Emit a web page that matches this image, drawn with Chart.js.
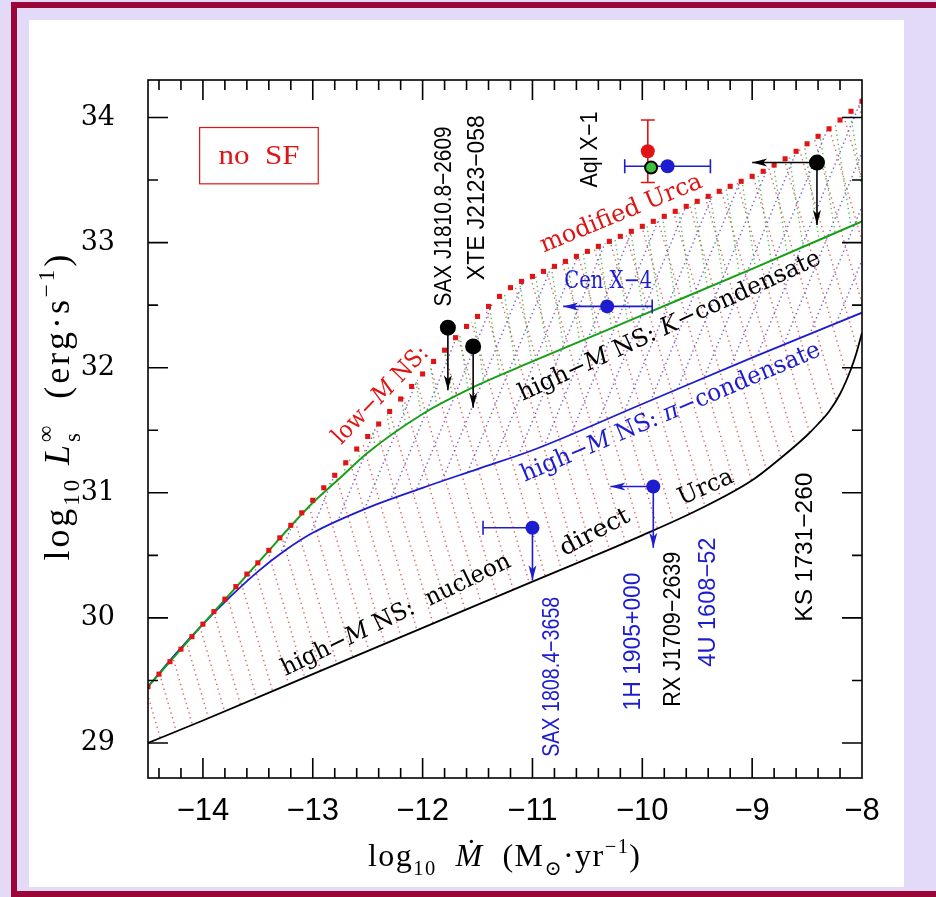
<!DOCTYPE html>
<html>
<head>
<meta charset="utf-8">
<title>Quiescent luminosity vs. accretion rate</title>
<script src="https://cdn.jsdelivr.net/npm/chart.js@4/dist/chart.umd.min.js"></script>
<style>
  html, body { margin: 0; padding: 0; }
  body { width: 936px; height: 897px; background: #e2daf6; position: relative; overflow: hidden; }
  #frame { position: absolute; left: 11px; top: 2px; width: 1000px; height: 895px; box-sizing: border-box; border: 6px solid #9c0538; }
  #panel { position: absolute; left: 29px; top: 20px; width: 875px; height: 867px; background: #fff; }
  #chart { position: absolute; left: 0; top: 0; }
</style>
</head>
<body>
<div id="frame"></div>
<div id="panel"></div>
<canvas id="chart" width="936" height="897"></canvas>
<script>
// log10 Mdot grid for the modified Urca (low-mass NS) curve
const mdotGrid = [
  -14.5, -14.4, -14.3, -14.2, -14.1, -14.0, -13.9, -13.8, -13.7, -13.6,
  -13.5, -13.4, -13.3, -13.2, -13.1, -13.0, -12.9, -12.8, -12.7, -12.6,
  -12.5, -12.4, -12.3, -12.2, -12.1, -12.0, -11.9, -11.8, -11.7, -11.6,
  -11.5, -11.4, -11.3, -11.2, -11.1, -11.0, -10.9, -10.8, -10.7, -10.6,
  -10.5, -10.4, -10.3, -10.2, -10.1, -10.0, -9.9, -9.8, -9.7, -9.6,
  -9.5, -9.4, -9.3, -9.2, -9.1, -9.0, -8.9, -8.8, -8.7, -8.6,
  -8.5, -8.4, -8.3, -8.2, -8.1, -8.0
];
const lumModUrca = [
  29.45, 29.55, 29.65, 29.75, 29.85, 29.95, 30.05, 30.15, 30.25, 30.35,
  30.44, 30.54, 30.64, 30.74, 30.84, 30.94, 31.04, 31.14, 31.24, 31.35,
  31.45, 31.55, 31.65, 31.75, 31.85, 31.95, 32.05, 32.14, 32.24, 32.33,
  32.41, 32.49, 32.57, 32.64, 32.69, 32.73, 32.77, 32.81, 32.85, 32.89,
  32.93, 32.97, 33.01, 33.05, 33.09, 33.13, 33.17, 33.21, 33.25, 33.29,
  33.33, 33.37, 33.41, 33.45, 33.49, 33.53, 33.57, 33.62, 33.67, 33.73,
  33.79, 33.85, 33.91, 33.98, 34.05, 34.13
];

// high-mass NS cooling curves
const mdotKaon = [-14.5, -14.0, -13.5, -13.0, -12.75, -12.5, -12.0, -11.5, -11.0, -10.0, -9.0, -8.0];
const lumKaon  = [29.45, 29.95, 30.44, 30.92, 31.12, 31.32, 31.63, 31.86, 32.05, 32.42, 32.79, 33.17];

const mdotPion = [-14.5, -14.25, -14.0, -13.75, -13.5, -13.25, -13.0, -12.5, -12.0, -11.5, -11.0, -10.0, -9.0, -8.0];
const lumPion  = [29.45, 29.71, 29.95, 30.17, 30.37, 30.54, 30.68, 30.88, 31.04, 31.19, 31.34, 31.71, 32.08, 32.44];

const mdotNucleon = [-14.5, -14.0, -13.0, -12.0, -11.0, -10.0, -9.5, -9.0, -8.75, -8.5, -8.4, -8.3, -8.2, -8.1, -8.05, -8.0];
const lumNucleon  = [29.0, 29.18, 29.55, 29.92, 30.29, 30.66, 30.86, 31.1, 31.27, 31.46, 31.55, 31.65, 31.79, 31.99, 32.12, 32.28];

// sources: SAX J1810.8-2609, XTE J2123-058, KS 1731-260
const blackX = [-11.77, -11.54, -8.41];
const blackL = [32.32, 32.17, 33.64];
const blackDownTo = [31.82, 31.68, 33.14];
const blackLeftTo = [null, null, -9.0];

// sources: Cen X-4, SAX 1808.4-3658, 1H 1905+000 / RX J1709-2639 / 4U 1608-52, Aql X-1
const blueX = [-10.32, -11.0, -9.9, -9.77];
const blueL = [32.49, 30.72, 31.05, 33.61];
const blueDownTo = [null, 30.30, 30.56, null];
const blueLeftTo = [-10.72, null, -10.29, null];
const blueErrLo = [null, -11.45, null, -10.16];
const blueErrHi = [-9.91, null, null, -9.38];

// Aql X-1, other estimates
const aqlRedX = [-9.95];
const aqlRedL = [33.73];
const aqlRedLo = [33.48];
const aqlRedHi = [33.98];
const aqlGreenX = [-9.92];
const aqlGreenL = [33.60];

const xTickVals = [-14, -13, -12, -11, -10, -9, -8];
const yTickVals = [29, 30, 31, 32, 33, 34];

const RED = '#e01414', BLUE = '#1d1dcf', GREEN = '#16a016', BLACK = '#000';
const SERIF = '"DejaVu Serif", "Liberation Serif", serif';
const TIMES = '"Liberation Serif", "DejaVu Serif", serif';
const NARROW = '"Liberation Sans Narrow", "Liberation Sans", sans-serif';

const pts = (xs, ys) => xs.map((x, i) => ({ x: x, y: ys[i] }));

const canvas = document.getElementById('chart');
const ctx0 = canvas.getContext('2d');

// dotted diagonal hatching tile
function dottedHatch(color, w, h, dir, step) {
  const c = document.createElement('canvas');
  c.width = w; c.height = h;
  const g = c.getContext('2d');
  g.fillStyle = color;
  const n = Math.round(Math.hypot(w, h) / step);
  for (let k = -1; k <= 1; k++) {
    for (let i = 0; i < n; i++) {
      const t = (i + 0.5) / n;
      const x = (dir > 0 ? t * w : w - t * w) + k * w;
      g.fillRect(x - 0.7, t * h - 0.7, 1.4, 1.4);
    }
  }
  return ctx0.createPattern(c, 'repeat');
}
const hatchRed = dottedHatch('rgba(225,70,70,0.85)', 18, 62, 1, 5);
const hatchBlue = dottedHatch('rgba(80,60,200,0.8)', 22, 54, -1, 4.6);
const hatchGreen = dottedHatch('rgba(50,175,50,0.8)', 17, 110, 1, 4.6);

// text made of runs: n = normal, i = italic, sub, sup, ss = stacked sub/sup
function runFont(kind, size, fam) {
  if (kind === 'i') return 'italic ' + size + 'px ' + fam;
  if (kind === 'sub' || kind === 'sup' || kind === 'ss') return (size * 0.64).toFixed(1) + 'px ' + fam;
  return size + 'px ' + fam;
}
function runWidth(ctx, r, size, fam) {
  ctx.font = runFont(r[1], size, fam);
  if (r[1] === 'ss') return Math.max(ctx.measureText(r[0][0]).width, ctx.measureText(r[0][1]).width);
  return ctx.measureText(r[0]).width;
}
// len: target length; stretches the glyphs, or with spread: true opens up the letter spacing
function drawRich(ctx, runs, o) {
  const fam = o.family || SERIF, size = o.size;
  const widths = runs.map(r => runWidth(ctx, r, size, fam));
  const total = widths.reduce((a, b) => a + b, 0);
  const nChars = runs.reduce((a, r) => a + (r[1] === 'ss' ? 1 : r[0].length), 0);
  let gap = 0;
  ctx.save();
  ctx.translate(o.x, o.y);
  ctx.rotate(-(o.angle || 0) * Math.PI / 180);
  if (o.len && o.spread) gap = (o.len - total) / Math.max(1, nChars - 1);
  else if (o.len) ctx.scale(o.len / total, 1);
  const full = total + gap * (nChars - 1);
  ctx.fillStyle = o.color || BLACK;
  ctx.textBaseline = o.baseline || 'middle';
  ctx.textAlign = 'left';
  let x = o.align === 'left' ? 0 : -full / 2;
  runs.forEach((r, i) => {
    ctx.font = runFont(r[1], size, fam);
    if (r[1] === 'ss') {
      ctx.fillText(r[0][0], x, size * 0.30);
      ctx.fillText(r[0][1], x, -size * 0.45);
      x += widths[i] + gap;
      return;
    }
    const dy = r[1] === 'sub' ? size * 0.28 : r[1] === 'sup' ? -size * 0.42 : 0;
    if (!gap) { ctx.fillText(r[0], x, dy); x += widths[i]; return; }
    for (const ch of r[0]) {
      ctx.fillText(ch, x, dy);
      x += ctx.measureText(ch).width + gap;
    }
  });
  ctx.restore();
}

function arrow(ctx, x1, y1, x2, y2, color) {
  const ang = Math.atan2(y2 - y1, x2 - x1);
  ctx.strokeStyle = color; ctx.fillStyle = color; ctx.lineWidth = 1.6;
  ctx.beginPath(); ctx.moveTo(x1, y1); ctx.lineTo(x2, y2); ctx.stroke();
  ctx.save();
  ctx.translate(x2, y2); ctx.rotate(ang);
  ctx.beginPath();
  ctx.moveTo(0, 0); ctx.lineTo(-15, -4); ctx.lineTo(-11, 0); ctx.lineTo(-15, 4);
  ctx.closePath(); ctx.fill();
  ctx.restore();
}
function hBar(ctx, xa, xb, y, color, capA, capB) {
  ctx.strokeStyle = color; ctx.lineWidth = 1.6;
  ctx.beginPath(); ctx.moveTo(xa, y); ctx.lineTo(xb, y);
  if (capA) { ctx.moveTo(xa, y - 7); ctx.lineTo(xa, y + 7); }
  if (capB) { ctx.moveTo(xb, y - 7); ctx.lineTo(xb, y + 7); }
  ctx.stroke();
}

// error bars and limit arrows, drawn just under the source markers
const limitsPlugin = {
  id: 'limits',
  beforeDatasetDraw(chart, args) {
    if (chart.data.datasets[args.index].label !== 'limits') return;
    const ctx = chart.ctx, xs = chart.scales.x, ys = chart.scales.y;
    const X = v => xs.getPixelForValue(v), Y = v => ys.getPixelForValue(v);
    ctx.save();
    blackX.forEach((x, i) => {
      if (blackDownTo[i] !== null) arrow(ctx, X(x), Y(blackL[i]), X(x), Y(blackDownTo[i]), BLACK);
      if (blackLeftTo[i] !== null) arrow(ctx, X(x), Y(blackL[i]), X(blackLeftTo[i]), Y(blackL[i]), BLACK);
    });
    blueX.forEach((x, i) => {
      const y = Y(blueL[i]);
      if (blueErrLo[i] !== null && blueErrHi[i] !== null) hBar(ctx, X(blueErrLo[i]), X(blueErrHi[i]), y, BLUE, true, true);
      else if (blueErrLo[i] !== null) hBar(ctx, X(blueErrLo[i]), X(x), y, BLUE, true, false);
      else if (blueErrHi[i] !== null) hBar(ctx, X(x), X(blueErrHi[i]), y, BLUE, false, true);
      if (blueDownTo[i] !== null) arrow(ctx, X(x), y, X(x), Y(blueDownTo[i]), BLUE);
      if (blueLeftTo[i] !== null) arrow(ctx, X(x), y, X(blueLeftTo[i]), y, BLUE);
    });
    aqlRedX.forEach((x, i) => {
      const px = X(x), a = Y(aqlRedLo[i]), b = Y(aqlRedHi[i]);
      ctx.strokeStyle = RED; ctx.lineWidth = 1.6;
      ctx.beginPath();
      ctx.moveTo(px, a); ctx.lineTo(px, b);
      ctx.moveTo(px - 7, a); ctx.lineTo(px + 7, a);
      ctx.moveTo(px - 7, b); ctx.lineTo(px + 7, b);
      ctx.stroke();
    });
    ctx.restore();
  }
};

// curve captions, source names and the "no SF" box
const textPlugin = {
  id: 'texts',
  afterDatasetsDraw(chart) {
    const ctx = chart.ctx, xs = chart.scales.x, ys = chart.scales.y;
    const X = v => xs.getPixelForValue(v), Y = v => ys.getPixelForValue(v);

    const curveText = [
      [[['modified Urca', 'n']], -10.19, 33.23, 22.3, 173, RED],
      [[['low−', 'n'], ['M', 'i'], [' NS:', 'n']], -12.38, 31.78, 46, 127, RED],
      [[['high−', 'n'], ['M', 'i'], [' NS: ', 'n'], ['K', 'i'], ['−condensate', 'n']], -9.75, 32.33, 24.7, 330, BLACK],
      [[['high−', 'n'], ['M', 'i'], [' NS: ', 'n'], ['π', 'i'], ['−condensate', 'n']], -9.74, 31.64, 23.1, 323, BLUE],
      [[['high−', 'n'], ['M', 'i'], [' NS:  nucleon', 'n']], -12.24, 30.02, 25.9, 252, BLACK],
      [[['direct', 'n']], -10.43, 30.68, 28, 76, BLACK],
      [[['Urca', 'n']], -9.42, 31.04, 24, 58, BLACK],
      [[['Cen X−4', 'n']], -10.31, 32.69, 0, 88, BLUE]
    ];
    curveText.forEach(c => drawRich(ctx, c[0], { x: X(c[1]), y: Y(c[2]), angle: c[3], len: c[4], color: c[5], size: 24 }));

    const sourceText = [
      ['SAX J1810.8−2609', -11.80, 32.49, 180, BLACK],
      ['XTE J2123−058', -11.50, 32.70, 165, BLACK],
      ['Aql X−1', -10.47, 33.44, 76, BLACK],
      ['KS 1731−260', -8.52, 29.97, 149, BLACK],
      ['SAX 1808.4−3658', -10.82, 28.89, 160, BLUE],
      ['1H 1905+000', -10.08, 29.26, 138, BLUE],
      ['RX J1709−2639', -9.72, 29.29, 155, BLACK],
      ['4U 1608−52', -9.40, 29.61, 129, BLUE]
    ];
    sourceText.forEach(s => drawRich(ctx, [[s[0], 'n']], {
      x: X(s[1]), y: Y(s[2]), angle: 90, len: s[3], color: s[4], size: 24, family: NARROW, align: 'left'
    }));

    // "no SF" box
    const bx1 = X(-14.03), bx2 = X(-12.95), by1 = Y(33.92), by2 = Y(33.47);
    ctx.save();
    ctx.strokeStyle = RED; ctx.lineWidth = 1.2;
    ctx.strokeRect(bx1, by1, bx2 - bx1, by2 - by1);
    ctx.restore();
    drawRich(ctx, [['no  SF', 'n']], { x: (bx1 + bx2) / 2, y: (by1 + by2) / 2 + 1, len: 81, color: RED, size: 27, family: TIMES });
  }
};

// frame with inward major/minor ticks on all four sides, plus axis titles
const framePlugin = {
  id: 'frame',
  afterDraw(chart) {
    const ctx = chart.ctx, a = chart.chartArea, xs = chart.scales.x, ys = chart.scales.y;
    ctx.save();
    ctx.strokeStyle = BLACK; ctx.lineWidth = 1.6;
    ctx.strokeRect(a.left, a.top, a.right - a.left, a.bottom - a.top);
    ctx.beginPath();
    for (let v = -14.4; v < -8.05; v += 0.2) {
      const major = Math.abs(v - Math.round(v)) < 1e-6;
      const len = major ? 20 : 10;
      const px = xs.getPixelForValue(v);
      ctx.moveTo(px, a.bottom); ctx.lineTo(px, a.bottom - len);
      ctx.moveTo(px, a.top); ctx.lineTo(px, a.top + len);
    }
    for (let v = 29; v <= 34.01; v += 0.5) {
      const major = Math.abs(v - Math.round(v)) < 1e-6;
      const len = major ? 20 : 10;
      const py = ys.getPixelForValue(v);
      ctx.moveTo(a.left, py); ctx.lineTo(a.left + len, py);
      ctx.moveTo(a.right, py); ctx.lineTo(a.right - len, py);
    }
    ctx.stroke();
    ctx.restore();

    drawRich(ctx, [['log', 'n'], ['10', 'sub'], [' ', 'n'], ['L', 'i'], [['s', '∞'], 'ss'], ['  (erg·s', 'n'], ['−1', 'sup'], [')', 'n']],
      { x: a.left - 79, y: 408, angle: 90, len: 305, size: 36, family: TIMES, baseline: 'alphabetic', spread: true });
    drawRich(ctx, [['log', 'n'], ['10', 'sub'], ['  ', 'n'], ['Ṁ', 'i'], ['  (M', 'n'], ['⊙', 'sub'], ['·yr', 'n'], ['−1', 'sup'], [')', 'n']],
      { x: 504, y: a.bottom + 88, len: 272, size: 32, family: TIMES, baseline: 'alphabetic', spread: true });
  }
};

new Chart(canvas, {
  type: 'line',
  data: {
    datasets: [
      { label: 'high-M NS: nucleon direct Urca', data: pts(mdotNucleon, lumNucleon), borderColor: BLACK, borderWidth: 1.8,
        pointRadius: 0, cubicInterpolationMode: 'monotone', backgroundColor: hatchRed, fill: 3, order: 6 },
      { label: 'high-M NS: pi-condensate', data: pts(mdotPion, lumPion), borderColor: BLUE, borderWidth: 1.8,
        pointRadius: 0, cubicInterpolationMode: 'monotone', backgroundColor: hatchBlue, fill: 3, order: 5 },
      { label: 'high-M NS: K-condensate', data: pts(mdotKaon, lumKaon), borderColor: GREEN, borderWidth: 2,
        pointRadius: 0, cubicInterpolationMode: 'monotone', backgroundColor: hatchGreen, fill: 3, order: 4 },
      { label: 'low-M NS: modified Urca', data: pts(mdotGrid, lumModUrca), showLine: false, fill: false,
        pointStyle: 'rect', pointRadius: 3.6, pointBackgroundColor: RED, pointBorderWidth: 0, order: 3 },
      { label: 'limits', data: [], order: 2 },
      { label: 'black sources', data: pts(blackX, blackL), showLine: false, pointRadius: 8,
        pointBackgroundColor: BLACK, pointBorderWidth: 0, order: 1 },
      { label: 'blue sources', data: pts(blueX, blueL), showLine: false, pointRadius: 7,
        pointBackgroundColor: BLUE, pointBorderWidth: 0, order: 1 },
      { label: 'Aql X-1 red', data: pts(aqlRedX, aqlRedL), showLine: false, pointRadius: 7,
        pointBackgroundColor: RED, pointBorderWidth: 0, order: 1 },
      { label: 'Aql X-1 green', data: pts(aqlGreenX, aqlGreenL), showLine: false, pointRadius: 6,
        pointBackgroundColor: '#3ec23e', pointBorderColor: BLACK, pointBorderWidth: 2, order: 0 }
    ]
  },
  options: {
    responsive: false,
    animation: false,
    devicePixelRatio: 1,
    layout: { padding: { top: 80, right: 74, left: 0, bottom: 0 } },
    plugins: { legend: { display: false }, tooltip: { enabled: false } },
    scales: {
      x: {
        type: 'linear', min: -14.5, max: -8,
        afterFit: s => { s.height = 119; },
        afterBuildTicks: s => { s.ticks = xTickVals.map(v => ({ value: v })); },
        grid: { display: false }, border: { display: false },
        ticks: { color: BLACK, padding: 7, maxRotation: 0, autoSkip: false,
          font: { family: '"Liberation Sans", Arial, sans-serif', size: 31 },
          callback: v => String(v).replace('-', '−') }
      },
      y: {
        type: 'linear', min: 28.72, max: 34.3,
        afterFit: s => { s.width = 148; },
        afterBuildTicks: s => { s.ticks = yTickVals.map(v => ({ value: v })); },
        grid: { display: false }, border: { display: false },
        ticks: { color: BLACK, padding: 25, autoSkip: false,
          font: { family: SERIF, size: 27 },
          callback: v => String(v) }
      }
    }
  },
  plugins: [limitsPlugin, textPlugin, framePlugin]
});
</script>
</body>
</html>
